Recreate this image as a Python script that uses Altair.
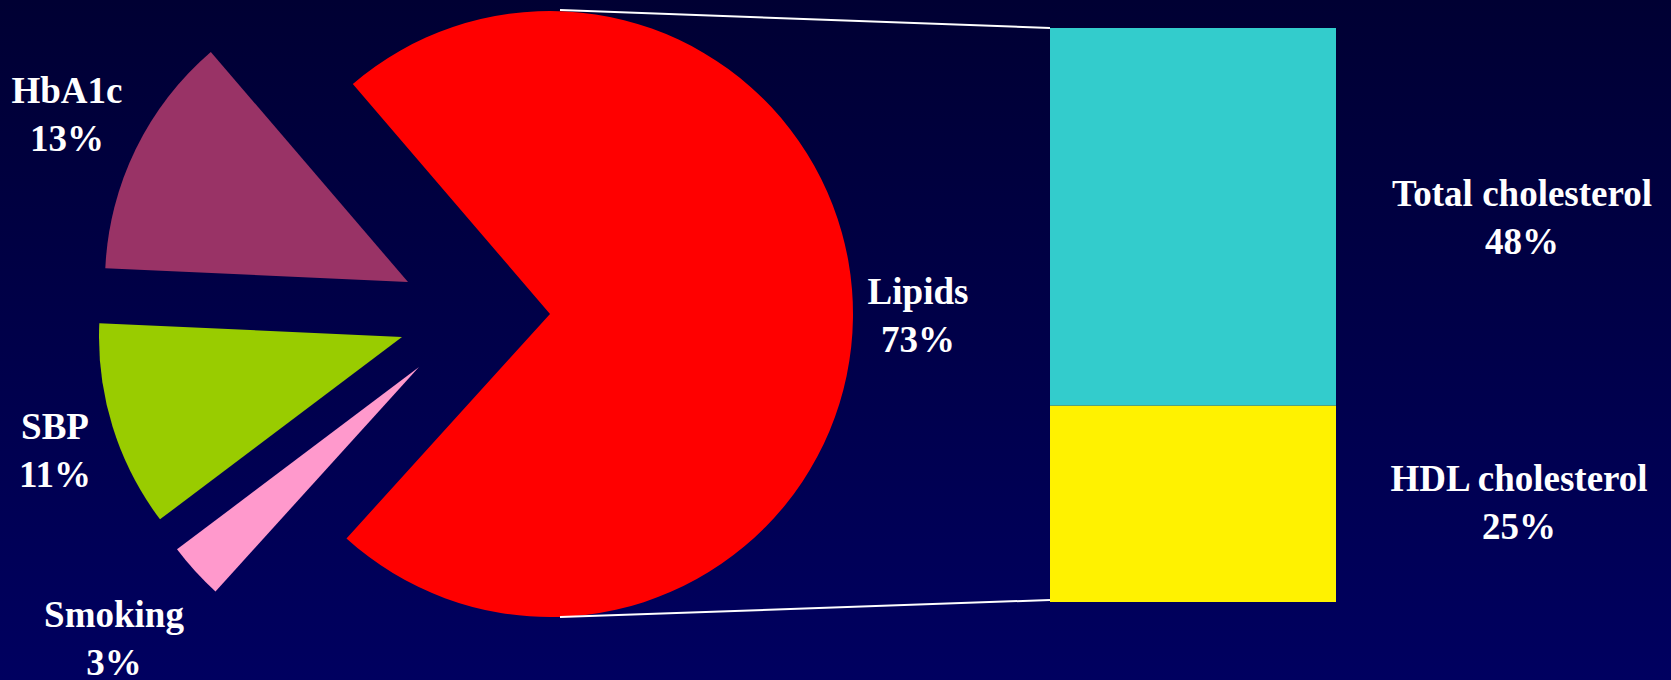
import math
import altair as alt
import pandas as pd

# ---- data ----
pie_labels = ["Smoking", "SBP", "HbA1c", "Lipids"]
pie_values = [3, 11, 13, 73]
pie_colors = ["#FF99CC", "#99CC00", "#993366", "#FF0000"]

bar_labels = ["HDL cholesterol", "Total cholesterol"]
bar_values = [25, 48]
bar_colors = ["#FFF200", "#33CCCC"]

# ---- layout (pixels) ----
W, H = 1671, 680
PIE_R = 303
PIE_START_DEG = 222.2
pie_centers = {
    "Lipids": (550, 314),
    "HbA1c": (408, 282),
    "SBP": (402, 337),
    "Smoking": (419, 367),
}
BAR_X0, BAR_X1 = 1050, 1336
BAR_TOP, BAR_BOTTOM = 28, 602
label_pos = {
    "HbA1c": (67, 103),
    "SBP": (55, 439),
    "Smoking": (114, 627),
    "Lipids": (918, 304),
    "Total cholesterol": (1522, 206),
    "HDL cholesterol": (1519, 491),
}
connectors = [((560, 10), (1050, 28)), ((560, 617), (1050, 600))]
FONT = "Liberation Serif"
FONT_SIZE = 37
LINE_H = 48

# ---- tables ----
cum = 0
rows = []
for name, v in zip(pie_labels, pie_values):
    rows.append({"name": name, "value": v, "start": cum, "end": cum + v})
    cum += v
pie_df = pd.DataFrame(rows)

cum = 0
rows = []
for name, v in zip(bar_labels, bar_values):
    rows.append({"name": name, "value": v, "b0": cum, "b1": cum + v})
    cum += v
bar_df = pd.DataFrame(rows)
bar_total = cum

label_df = pd.DataFrame(
    {
        "name": pie_labels + bar_labels,
        "label": [f"{n}\n{v}%" for n, v in zip(pie_labels + bar_labels, pie_values + bar_values)],
    }
)

one = pd.DataFrame({"a": [0]})

start = math.radians(PIE_START_DEG)
theta_scale = alt.Scale(domain=[0, sum(pie_values)], range=[start, start + 2 * math.pi])

layers = []

# background gradient
layers.append(
    alt.Chart(one)
    .mark_rect(
        color=alt.Gradient(
            gradient="linear",
            stops=[
                alt.GradientStop(color="#000033", offset=0),
                alt.GradientStop(color="#000060", offset=1),
            ],
            x1=0, x2=0, y1=0, y2=1,
        )
    )
    .encode(x=alt.value(0), x2=alt.value(W), y=alt.value(0), y2=alt.value(H))
)

# pie slices (exploded)
for name, color in zip(pie_labels, pie_colors):
    cx, cy = pie_centers[name]
    layers.append(
        alt.Chart(pie_df)
        .transform_filter(alt.datum.name == name)
        .mark_arc(radius=PIE_R, color=color)
        .encode(
            theta=alt.Theta("start:Q", scale=theta_scale),
            theta2="end:Q",
            x=alt.value(cx),
            y=alt.value(cy),
        )
    )

# connector lines
for (x1, y1), (x2, y2) in connectors:
    layers.append(
        alt.Chart(one)
        .mark_rule(color="white", strokeWidth=2)
        .encode(x=alt.value(x1), y=alt.value(y1), x2=alt.value(x2), y2=alt.value(y2))
    )

# stacked bar
layers.append(
    alt.Chart(bar_df)
    .mark_rect()
    .encode(
        x=alt.value(BAR_X0),
        x2=alt.value(BAR_X1),
        y=alt.Y("b0:Q", scale=alt.Scale(domain=[0, bar_total], range=[BAR_BOTTOM, BAR_TOP]), axis=None),
        y2="b1:Q",
        color=alt.Color("name:N", scale=alt.Scale(domain=bar_labels, range=bar_colors), legend=None),
    )
)

# labels
for name, (lx, ly) in label_pos.items():
    layers.append(
        alt.Chart(label_df)
        .transform_filter(alt.datum.name == name)
        .mark_text(
            font=FONT,
            fontWeight="bold",
            fontSize=FONT_SIZE,
            color="white",
            lineBreak="\n",
            lineHeight=LINE_H,
            align="center",
            baseline="alphabetic",
        )
        .encode(text="label:N", x=alt.value(lx), y=alt.value(ly))
    )

chart = (
    alt.layer(*layers)
    .properties(width=W, height=H, padding=0, autosize="none", background="#000033")
    .configure_view(stroke=None)
)

chart.save("out.html", embed_options={"renderer": "svg", "actions": False})
